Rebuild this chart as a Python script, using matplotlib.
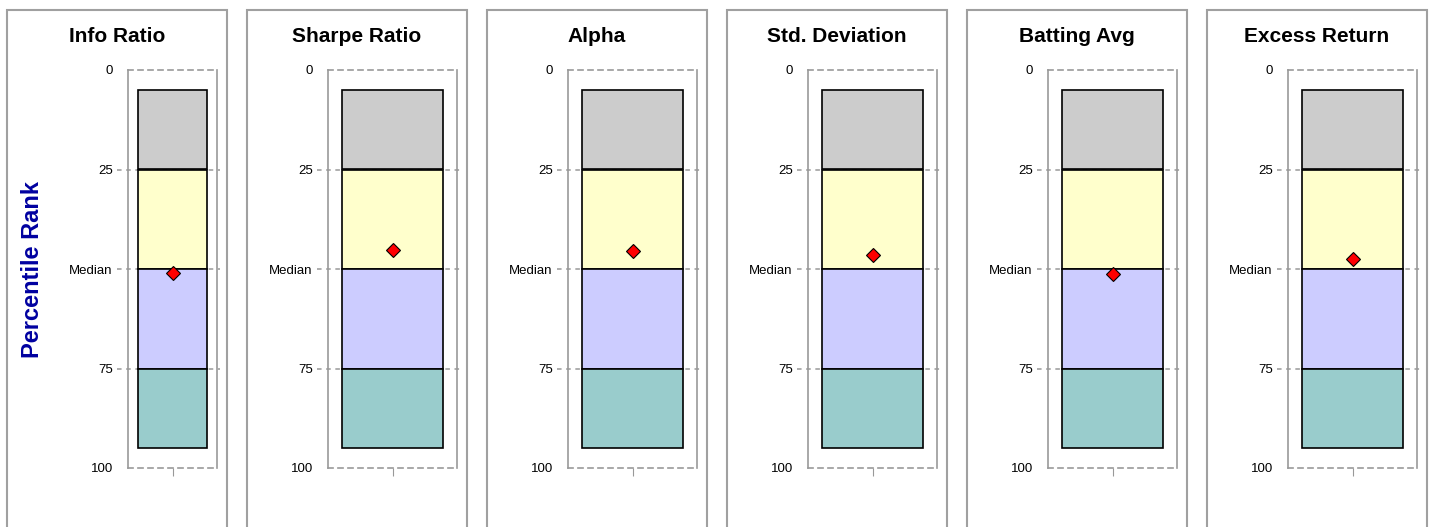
import matplotlib
matplotlib.use('Agg')
import matplotlib.pyplot as plt
from matplotlib.patches import Rectangle
from matplotlib.transforms import blended_transform_factory

plt.rcParams['font.family'] = ['Liberation Sans', 'DejaVu Sans']

metrics = ['Info Ratio', 'Sharpe Ratio', 'Alpha', 'Std. Deviation', 'Batting Avg', 'Excess Return']
ranks = [51, 45.3, 45.5, 46.4, 51.3, 47.4]
band_bottoms = [5, 25, 50, 75]
band_tops = [25, 50, 75, 95]
band_colors = ['#cccccc', '#ffffcc', '#ccccff', '#99cccc']
tick_vals = [0, 25, 50, 75, 100]
tick_labels = ['0', '25', 'Median', '75', '100']
grid_vals = [25, 50, 75]

W, H = 1432, 527
fig = plt.figure(figsize=(W / 100, H / 100), dpi=100)

for i, name in enumerate(metrics):
    # panel frame
    px = 7 + 240 * i
    fig.patches.append(Rectangle((px / W, -0.05), 220 / W, (H - 10) / H + 0.05,
                                 transform=fig.transFigure, fill=False,
                                 edgecolor='#a0a0a0', linewidth=1.5))
    fig.text((px + 110) / W, (H - 36) / H, name, ha='center', va='center',
             fontsize=15, fontweight='bold')

    if i == 0:
        ax_left, ax_w = 128, 89
    else:
        ax_left, ax_w = 328 + 240 * (i - 1), 129
    ax = fig.add_axes([ax_left / W, (H - 468) / H, ax_w / W, 398 / H])

    for b, t, c in zip(band_bottoms, band_tops, band_colors):
        ax.bar(0, t - b, bottom=b, width=0.78, color=c, edgecolor='black',
               linewidth=1.2, zorder=2)
    # dashed gridlines running a little past both sides of the plot box
    trans = blended_transform_factory(ax.transAxes, ax.transData)
    for v in grid_vals:
        ax.plot([-11 / ax_w, 1 + 3 / ax_w], [v, v], transform=trans, clip_on=False,
                color='#999999', linestyle=(0, (3, 3)), linewidth=1.1, zorder=1)
    ax.plot([0], [ranks[i]], marker='D', markersize=7.5, color='red',
            markeredgecolor='black', markeredgewidth=0.8, zorder=3)

    ax.set_xlim(-0.5, 0.5)
    ax.set_ylim(100, 0)
    ax.set_yticks(tick_vals)
    ax.set_yticklabels(tick_labels)
    ax.set_xticks([0])
    ax.set_xticklabels([''])
    ax.tick_params(axis='y', length=0, labelsize=9.5, pad=11)
    ax.tick_params(axis='x', length=6, color='#999999')
    for side in ['left', 'right']:
        ax.spines[side].set_color('#999999')
        ax.spines[side].set_linewidth(1.2)
    for side in ['top', 'bottom']:
        ax.spines[side].set_color('#999999')
        ax.spines[side].set_linestyle((0, (3, 3)))
        ax.spines[side].set_linewidth(1.2)

fig.text(33 / W, (H - 270) / H, 'Percentile Rank', rotation=90, ha='center',
         va='center', fontsize=17, fontweight='bold', color='#0000a0')

fig.savefig('out.png', dpi=100)
